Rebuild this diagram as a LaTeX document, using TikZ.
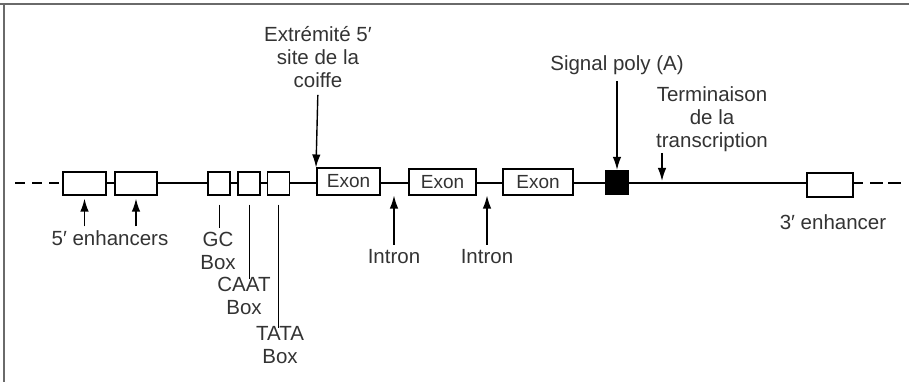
\documentclass[tikz,border=0pt]{standalone}
\usepackage{fontspec}
\setmainfont{Liberation Sans}
\usetikzlibrary{positioning,arrows.meta}

\definecolor{inkgray}{HTML}{333333}
\definecolor{framegray}{HTML}{6A6A6A}

\tikzset{
  dna/.style={line width=1.6pt, black},
  elem/.style={draw, line width=1.2pt, fill=white, inner sep=0pt, minimum height=23pt},
  exonbox/.style={elem, line width=2pt, minimum height=26pt, text=inkgray,
    font=\fontsize{19}{22}\selectfont},
  lbl/.style={text=inkgray, font=\fontsize{20.5}{23}\selectfont, align=center, inner sep=0pt},
  pointer/.style={-{Latex[length=13pt,width=8.5pt]}, line width=1.4pt},
  tick/.style={line width=1pt},
}

\begin{document}
\begin{tikzpicture}[x=1pt,y=-1pt]
  \useasboundingbox (0,0) rectangle (909,382);
  % frame
  \draw[framegray, line width=2.4pt] (0,4) -- (909,4);
  \draw[framegray, line width=1.4pt] (4,4) -- (4,382);

  % elements on the gene
  \node[elem, minimum width=43pt] (enh1) at (84.5,183.5) {};
  \node[elem, minimum width=42pt] (enh2) at (136,183.5) {};
  \node[elem, minimum width=22pt] (gc) at (219,183.5) {};
  \node[elem, minimum width=22pt] (caat) at (249,183.5) {};
  \node[elem, minimum width=22pt] (tata) at (278.5,183.5) {};
  \node[exonbox, minimum width=63pt] (ex1) at (348.5,181.5) {Exon};
  \node[exonbox, minimum width=67pt] (ex2) at (442.5,182) {Exon};
  \node[exonbox, minimum width=70pt] (ex3) at (538,182) {Exon};
  \node[elem, fill=black, minimum width=22pt, minimum height=24pt] (polyA) at (617,182.5) {};
  \node[elem, minimum width=46pt, minimum height=24pt] (enh3) at (830,185) {};

  % the DNA line
  \coordinate (lend) at (15,183);
  \coordinate (rend) at (903,183);
  \draw[dna, dash pattern=on 10pt off 7pt] (lend) -- (enh1.west |- lend);
  \foreach \a/\b in {enh1/enh2, enh2/gc, gc/caat, caat/tata, tata/ex1, ex1/ex2, ex2/ex3, ex3/polyA}
    \draw[dna] (\a.east |- lend) -- (\b.west |- lend);
  \draw[dna] (polyA.east |- lend) -- (enh3.west |- lend);
  \draw[dna] (enh3.east |- lend) -- ++(9,0);
  \draw[dna, dash pattern=on 13pt off 5pt] (870,183) -- (rend);

  % labels
  \node[lbl] (ext) at (318,57) {Extrémité 5′\\site de la\\coiffe};
  \node[lbl] (sig) at (617,65) {Signal poly (A)};
  \node[lbl] (term) at (712,119) {Terminaison\\de la\\transcription};
  \node[lbl] (in1) at (394,257) {Intron};
  \node[lbl] (in2) at (487,257) {Intron};
  \node[lbl] (enh5) at (110,238) {5′ enhancers};
  \node[lbl] (gcl) at (218,251) {GC\\Box};
  \node[lbl] (caatl) at (244,296) {CAAT\\Box};
  \node[lbl] (tatal) at (280,345) {TATA\\Box};
  \node[lbl] (enh3l) at (833,222) {3′ enhancer};

  % pointers
  \draw[pointer, shorten <=7pt] (ext.south) -- (ex1.north west);
  \draw[pointer, shorten <=6pt] (sig.south) -- (polyA.north);
  \coordinate (termtail) at (662,153);
  \coordinate (termtip) at (662,181);
  \draw[pointer] (termtail) -- (termtip);
  \coordinate (in1tip) at (in1 |- ex1.south);
  \coordinate (in2tip) at (in2 |- ex1.south);
  \draw[pointer, shorten <=5pt] (in1.north) -- (in1tip);
  \draw[pointer, shorten <=5pt] (in2.north) -- (in2tip);
  \draw[pointer, shorten <=4pt, shorten >=3pt] (enh1.south |- enh5.north) -- (enh1.south);
  \draw[pointer, shorten <=4pt, shorten >=3pt] (enh2.south |- enh5.north) -- (enh2.south);

  % box ticks
  \draw[tick, shorten <=9pt, shorten >=4pt] (gc.south) -- (gc.south |- gcl.north);
  \draw[tick, shorten <=9pt, shorten >=-2pt] (caat.south) -- (caat.south |- caatl.north);
  \draw[tick, shorten <=9pt, shorten >=-2pt] (tata.south) -- (tata.south |- tatal.north);
\end{tikzpicture}
\end{document}
